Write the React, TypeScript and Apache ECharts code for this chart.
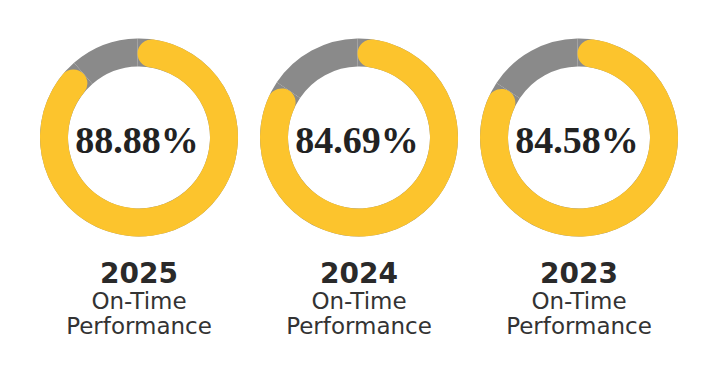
import React, { useEffect, useRef } from "react";
import * as echarts from "echarts";

const years = ["2025", "2024", "2023"];
const onTimeValues = [88.88, 84.69, 84.58];
const subtitleLine1 = "On-Time";
const subtitleLine2 = "Performance";

const YELLOW = "#FCC42D";
const GRAY = "#8A8A8A";

export default function App() {
  const ref = useRef<HTMLDivElement>(null);

  useEffect(() => {
    if (!ref.current) return;
    const chart = echarts.init(ref.current, null, { renderer: "svg" });
    const centersX = [139, 359, 579];
    const cy = 137.5;
    const radius = [71, 99];

    const series: any[] = [];
    const graphics: any[] = [];
    onTimeValues.forEach((v, i) => {
      const rest = +(100 - v).toFixed(2);
      series.push({
        type: "pie",
        silent: true,
        center: [centersX[i], cy],
        radius,
        startAngle: 91,
        clockwise: true,
        label: { show: false },
        labelLine: { show: false },
        itemStyle: { borderWidth: 0, color: GRAY },
        data: [{ value: v }, { value: rest }],
        z: 1,
      });
      series.push({
        type: "pie",
        silent: true,
        center: [centersX[i], cy],
        radius,
        startAngle: 91,
        clockwise: true,
        label: { show: false },
        labelLine: { show: false },
        itemStyle: { borderWidth: 0 },
        data: [
          { value: v, itemStyle: { color: YELLOW, borderRadius: 30 } },
          { value: rest, itemStyle: { color: "rgba(0,0,0,0)" } },
        ],
        z: 2,
      });
      graphics.push({
        type: "text",
        x: centersX[i] - 2,
        y: cy + 2,
        style: {
          text: v.toFixed(2) + "%",
          fontFamily: "Liberation Serif",
          fontWeight: "bold",
          fontSize: 38,
          fill: "#222222",
          textAlign: "center",
          textVerticalAlign: "middle",
        },
      });
      graphics.push({
        type: "text",
        x: centersX[i],
        y: 273,
        style: {
          text: years[i],
          fontFamily: "DejaVu Sans",
          fontWeight: "bold",
          fontSize: 28,
          fill: "#2a2a2a",
          textAlign: "center",
          textVerticalAlign: "middle",
        },
      });
      graphics.push({
        type: "text",
        x: centersX[i],
        y: 300.5,
        style: {
          text: subtitleLine1,
          fontFamily: "DejaVu Sans",
          fontSize: 23,
          fill: "#333333",
          textAlign: "center",
          textVerticalAlign: "middle",
        },
      });
      graphics.push({
        type: "text",
        x: centersX[i],
        y: 325.5,
        style: {
          text: subtitleLine2,
          fontFamily: "DejaVu Sans",
          fontSize: 23,
          fill: "#333333",
          textAlign: "center",
          textVerticalAlign: "middle",
        },
      });
    });

    chart.setOption({
      animation: false,
      backgroundColor: "#ffffff",
      series,
      graphic: graphics,
    });
    return () => chart.dispose();
  }, []);

  return (
    <div
      ref={ref}
      style={{ position: "fixed", left: 0, top: 0, width: 717, height: 374 }}
    />
  );
}
